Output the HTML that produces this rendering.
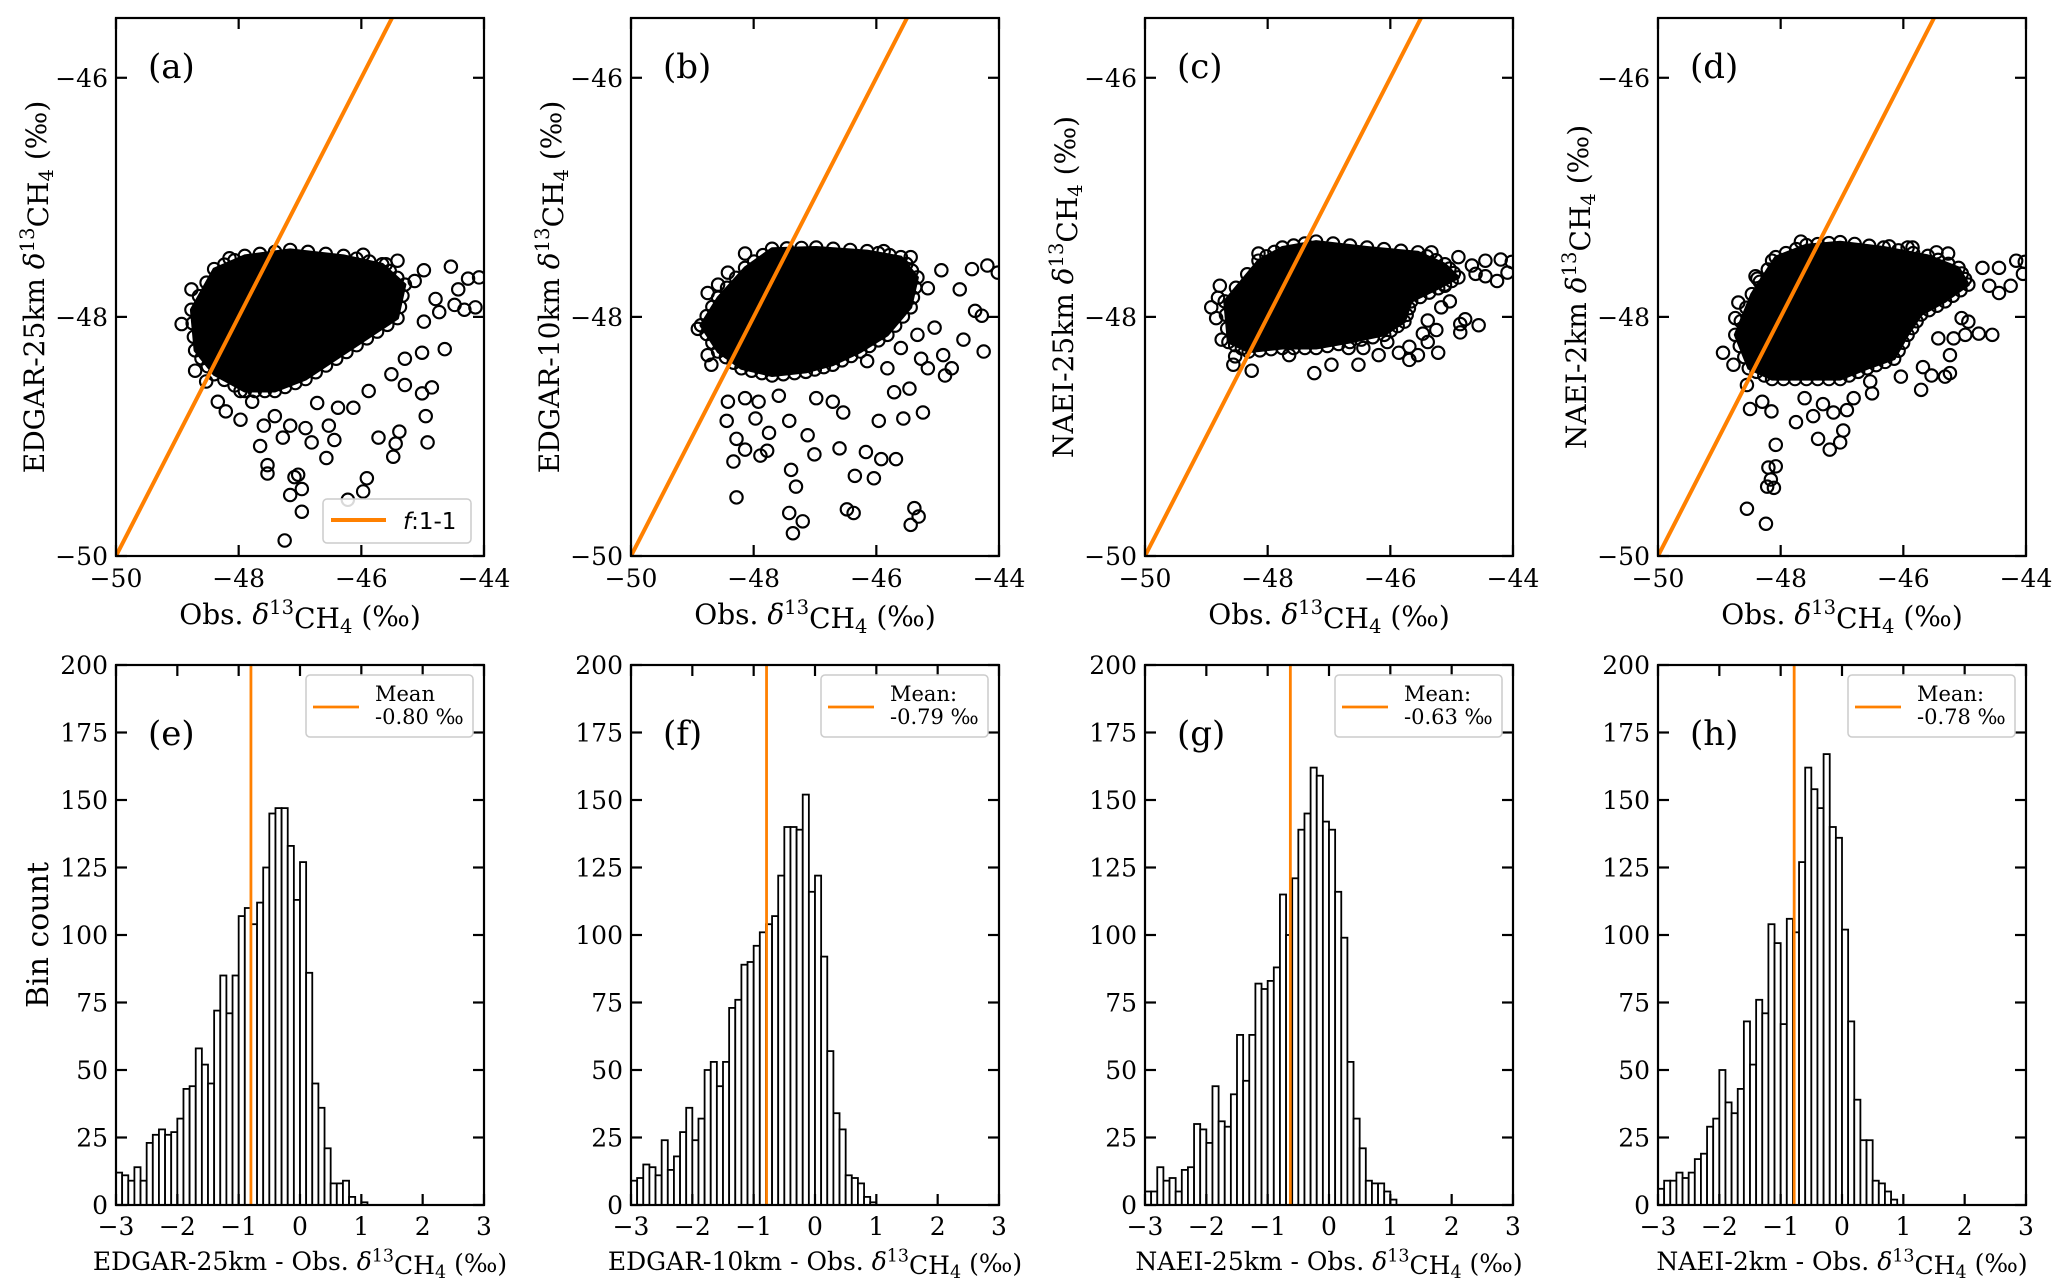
<!DOCTYPE html>
<html><head><meta charset="utf-8">
<style>
html,body{margin:0;padding:0;background:#fff;}
svg{display:block;font-family:"DejaVu Serif","Liberation Serif",serif;}
</style></head>
<body>
<svg id="fig" width="2067" height="1288" viewBox="0 0 2067 1288" xmlns="http://www.w3.org/2000/svg"></svg>
<script>
// ---------- DATA ----------
const scatterNames = ["EDGAR-25km","EDGAR-10km","NAEI-25km","NAEI-2km"];
const scatterLetters = ["(a)","(b)","(c)","(d)"];
const histLetters = ["(e)","(f)","(g)","(h)"];
const xTicksScatter = [-50,-48,-46,-44];
const yTicksScatter = [-50,-48,-46];
const xTicksHist = [-3,-2,-1,0,1,2,3];
const yTicksHist = [0,25,50,75,100,125,150,175,200];
const meanValues = [-0.80,-0.79,-0.63,-0.78];
const meanLabels = ["Mean","Mean:","Mean:","Mean:"];
const binStart = -3.0;
const binWidth = 0.1;

const histE = [12,11,9,14,9,23,26,28,26,27,32,43,44,58,52,45,72,85,71,85,107,110,104,112,125,145,147,147,133,113,127,86,45,36,21,8,8,9,3,0,1];
const histF = [9,10,15,14,11,24,13,18,27,36,24,32,50,53,44,53,73,76,89,90,96,101,104,107,122,140,140,139,152,116,122,92,57,34,28,11,10,8,3,1,0];
const histG = [5,5,14,9,10,5,13,14,30,28,23,44,31,29,41,63,46,63,82,80,83,88,115,100,121,139,145,162,159,142,139,116,99,53,32,21,9,8,8,5,2];
const histH = [6,9,9,12,10,12,17,19,29,32,50,38,34,43,68,52,76,71,104,97,67,106,101,127,162,154,147,167,140,136,102,68,39,24,24,9,8,5,2,0,0];

const coreAX = [-48.77,-48.40,-47.90,-47.16,-46.29,-45.66,-45.29,-45.41,-45.91,-46.41,-46.91,-47.41,-47.90,-48.40,-48.71];
const coreAY = [-47.94,-47.60,-47.49,-47.44,-47.49,-47.56,-47.73,-48.01,-48.18,-48.35,-48.52,-48.62,-48.62,-48.48,-48.28];
const ptsAX = [-48.93,-48.77,-48.71,-48.53,-48.34,-48.15,-47.97,-47.65,-47.53,-47.53,-47.59,-47.41,-47.28,-47.16,-47.09,-47.03,-47.16,-46.97,-46.97,-47.25,-46.91,-46.81,-46.72,-46.53,-46.44,-46.57,-46.38,-46.22,-46.13,-45.97,-45.91,-45.88,-45.72,-45.48,-45.38,-45.44,-45.51,-45.29,-45.29,-45.01,-44.85,-44.95,-44.92,-45.01,-44.64,-44.98,-44.73,-44.54,-44.42,-44.32,-44.14,-44.08,-44.26,-44.98,-45.13,-45.41,-45.97,-45.60,-44.79,-44.48,-48.09,-47.97,-48.21,-47.78];
const ptsAY = [-48.06,-47.77,-48.45,-48.54,-48.71,-47.51,-48.86,-49.08,-49.24,-49.31,-48.91,-48.83,-49.01,-48.91,-49.34,-49.32,-49.49,-49.63,-49.44,-49.87,-48.93,-49.05,-48.72,-48.91,-49.03,-49.18,-48.76,-49.53,-48.76,-49.46,-49.35,-48.62,-49.01,-49.17,-48.96,-49.06,-48.48,-48.57,-48.35,-48.64,-48.59,-48.83,-49.05,-48.30,-48.27,-48.04,-47.96,-47.58,-47.77,-47.94,-47.92,-47.67,-47.68,-47.61,-47.70,-47.53,-47.48,-47.56,-47.85,-47.90,-48.38,-48.62,-48.79,-48.71];

const coreBX = [-48.86,-48.58,-48.14,-47.70,-46.98,-46.15,-45.60,-45.33,-45.44,-45.82,-46.26,-46.71,-47.15,-47.70,-48.20,-48.58];
const coreBY = [-48.07,-47.84,-47.59,-47.43,-47.42,-47.45,-47.50,-47.67,-47.92,-48.15,-48.29,-48.40,-48.46,-48.49,-48.43,-48.29];
const ptsBX = [-48.14,-48.91,-48.75,-48.69,-48.42,-48.44,-48.28,-48.14,-48.33,-48.28,-47.89,-47.78,-47.97,-47.75,-47.39,-47.31,-47.42,-47.20,-47.36,-47.12,-47.01,-46.60,-46.48,-46.37,-46.35,-46.04,-46.17,-45.92,-45.68,-45.96,-45.56,-45.24,-45.46,-45.71,-45.38,-45.31,-45.44,-44.25,-44.58,-44.64,-44.44,-44.19,-44.02,-44.28,-44.39,-44.77,-44.88,-44.91,-45.16,-45.27,-46.98,-46.71,-46.54,-47.42,-47.59,-48.14,-47.92,-48.58,-48.75,-48.42,-46.15,-45.82,-45.60,-45.33,-45.05,-45.16,-44.94,-45.44,-45.88];
const ptsBY = [-47.47,-48.10,-48.32,-48.40,-48.71,-48.87,-49.02,-49.11,-49.21,-49.51,-49.16,-49.12,-48.85,-48.97,-49.28,-49.42,-49.64,-49.71,-49.81,-48.99,-49.15,-49.10,-49.61,-49.64,-49.33,-49.35,-49.13,-49.19,-49.19,-48.87,-48.85,-48.80,-48.60,-48.63,-49.60,-49.67,-49.74,-48.29,-48.19,-47.77,-47.60,-47.57,-47.63,-47.99,-47.95,-48.43,-48.49,-48.32,-48.43,-48.35,-48.68,-48.71,-48.80,-48.87,-48.66,-48.68,-48.71,-47.73,-47.80,-47.63,-48.37,-48.43,-48.26,-48.15,-48.09,-47.76,-47.61,-47.50,-47.45];

const coreCX = [-48.70,-48.15,-47.76,-47.21,-46.38,-45.55,-45.11,-44.89,-45.22,-45.66,-45.77,-46.10,-46.66,-47.21,-47.76,-48.31,-48.64];
const coreCY = [-47.87,-47.53,-47.42,-47.37,-47.42,-47.46,-47.56,-47.67,-47.76,-47.87,-48.04,-48.15,-48.21,-48.26,-48.26,-48.29,-48.21];
const ptsCX = [-48.15,-48.92,-48.78,-48.84,-48.75,-48.56,-48.26,-47.24,-46.96,-46.52,-46.68,-46.44,-46.19,-45.86,-45.69,-45.55,-45.69,-45.39,-45.22,-45.25,-45.17,-45.03,-44.86,-44.78,-44.56,-44.86,-45.39,-44.67,-44.45,-44.20,-44.02,-44.09,-44.26,-44.61,-44.45,-44.89,-45.33,-45.11,-48.81,-48.53,-47.65,-46.05,-45.47];
const ptsCY = [-47.47,-47.92,-47.74,-48.01,-48.19,-48.40,-48.45,-48.47,-48.40,-48.40,-48.26,-48.26,-48.32,-48.30,-48.36,-48.32,-48.25,-48.21,-48.30,-48.11,-47.92,-47.87,-48.06,-48.02,-48.07,-48.13,-48.03,-47.57,-47.53,-47.52,-47.54,-47.63,-47.70,-47.64,-47.66,-47.50,-47.46,-47.74,-47.84,-48.33,-48.32,-48.21,-48.14];

const coreDX = [-48.74,-48.47,-48.08,-47.58,-47.03,-46.32,-45.60,-45.10,-44.94,-45.32,-45.71,-45.93,-46.15,-46.59,-47.03,-47.58,-48.14,-48.52];
const coreDY = [-48.15,-47.81,-47.50,-47.40,-47.375,-47.42,-47.49,-47.59,-47.73,-47.87,-47.98,-48.15,-48.35,-48.43,-48.52,-48.52,-48.52,-48.43];
const ptsDX = [-47.67,-48.14,-48.41,-48.38,-48.69,-48.74,-48.94,-48.77,-48.55,-48.50,-48.30,-48.15,-47.75,-47.61,-47.47,-47.31,-47.14,-47.39,-47.20,-47.03,-46.98,-46.92,-46.81,-46.51,-46.54,-46.04,-45.71,-45.68,-45.54,-45.32,-45.24,-45.24,-45.18,-45.43,-44.99,-44.77,-44.55,-44.94,-45.05,-44.44,-44.60,-44.25,-44.05,-44.02,-44.16,-44.44,-44.71,-48.08,-48.20,-48.08,-48.16,-48.22,-48.11,-48.55,-48.24,-45.93,-45.85,-46.23,-45.46,-45.27];
const ptsDY = [-47.37,-47.53,-47.66,-47.68,-47.88,-48.01,-48.30,-48.40,-48.57,-48.77,-48.71,-48.79,-48.88,-48.68,-48.83,-48.73,-48.80,-49.02,-49.11,-49.05,-48.95,-48.78,-48.68,-48.64,-48.54,-48.50,-48.61,-48.42,-48.49,-48.50,-48.47,-48.32,-48.18,-48.18,-48.15,-48.14,-48.15,-48.04,-48.01,-47.80,-47.74,-47.74,-47.64,-47.54,-47.53,-47.59,-47.59,-49.07,-49.26,-49.25,-49.36,-49.42,-49.43,-49.605,-49.73,-47.42,-47.42,-47.41,-47.46,-47.47];

const coresX = [coreAX,coreBX,coreCX,coreDX];
const coresY = [coreAY,coreBY,coreCY,coreDY];
const pointsX = [ptsAX,ptsBX,ptsCX,ptsDX];
const pointsY = [ptsAY,ptsBY,ptsCY,ptsDY];
const hists = [histE,histF,histG,histH];

// ---------- LAYOUT ----------
const NS = "http://www.w3.org/2000/svg";
const svg = document.getElementById("fig");
const colLeft = [116,631,1145,1658];
const W = 368;
const sTop = 18, sBot = 556, hTop = 665, hBot = 1205;
const ORANGE = "#ff8000";
const MR = 6.2, MSW = 2.1;
const sXmin=-50,sXmax=-44,sYmin=-50,sYmax=-45.5;

function mk(tag, attrs, parent){
  const e=document.createElementNS(NS,tag);
  for(const k in attrs) e.setAttribute(k,attrs[k]);
  (parent||svg).appendChild(e); return e;
}
function fmt(v){return v<0?"\u2212"+Math.abs(v):String(v);}
function deltaLabel(t, prefix){
  t.appendChild(document.createTextNode(prefix));
  const d=mk("tspan",{"font-style":"italic"},t); d.textContent="\u03B4";
  const s=mk("tspan",{"font-size":"70%",dy:"-0.5em"},t); s.textContent="13";
  const c=mk("tspan",{dy:"0.5em"},t); c.textContent="CH";
  const f=mk("tspan",{"font-size":"70%",dy:"0.25em"},t); f.textContent="4";
  const r=mk("tspan",{dy:"-0.25em"},t); r.textContent=" (\u2030)";
}

for(let p=0;p<4;p++){
  const L=colLeft[p], R=L+W;
  const sx=v=>L+(v-sXmin)/(sXmax-sXmin)*W;
  const sy=v=>sBot-(v-sYmin)/(sYmax-sYmin)*(sBot-sTop);
  const g=mk("g",{});
  
  
  const clipId="clip"+p;
  const cp=mk("clipPath",{id:clipId},g); mk("rect",{x:L,y:sTop,width:W,height:sBot-sTop},cp);
  const pg=mk("g",{"clip-path":"url(#"+clipId+")"},g);
  const cx=coresX[p], cy=coresY[p];
  let d="";
  for(let i=0;i<cx.length;i++) d+=(i?"L":"M")+sx(cx[i]).toFixed(1)+","+sy(cy[i]).toFixed(1);
  const core=mk("path",{d:d+"Z",fill:"#000",stroke:"#000","stroke-width":3,"stroke-linejoin":"round"},pg);
  
  
  for(let i=0;i<cx.length;i++){
    const j=(i+1)%cx.length;
    for(let k=0;k<3;k++){
      const t=k/3;
      const X=sx(cx[i]+(cx[j]-cx[i])*t), Y=sy(cy[i]+(cy[j]-cy[i])*t);
      const c=mk("circle",{cx:X,cy:Y,r:MR,fill:"none",stroke:"#000","stroke-width":MSW},pg);
      
      
    }
  }
  const px=pointsX[p], py=pointsY[p];
  for(let i=0;i<px.length;i++){
    const c=mk("circle",{cx:sx(px[i]),cy:sy(py[i]),r:MR,fill:"none",stroke:"#000","stroke-width":MSW},pg);
    
    
  }
  const ol=mk("line",{x1:sx(-50),y1:sy(-50),x2:sx(sYmax),y2:sy(sYmax),stroke:ORANGE,"stroke-width":4},pg);
  
  
  for(const v of xTicksScatter){
    mk("line",{x1:sx(v),y1:sBot,x2:sx(v),y2:sBot-11,stroke:"#000","stroke-width":2.2},g);
    mk("line",{x1:sx(v),y1:sTop,x2:sx(v),y2:sTop+11,stroke:"#000","stroke-width":2.2},g);
    const t=mk("text",{x:sx(v),y:sBot+31,"font-size":25,"text-anchor":"middle"},g); t.textContent=fmt(v);
    
    
  }
  for(const v of yTicksScatter){
    mk("line",{x1:L,y1:sy(v),x2:L+11,y2:sy(v),stroke:"#000","stroke-width":2.2},g);
    mk("line",{x1:R,y1:sy(v),x2:R-11,y2:sy(v),stroke:"#000","stroke-width":2.2},g);
    const t=mk("text",{x:L-8,y:sy(v)+9,"font-size":25,"text-anchor":"end"},g); t.textContent=fmt(v);
    
    
  }
  const fr=mk("rect",{x:L,y:sTop,width:W,height:sBot-sTop,fill:"none",stroke:"#000","stroke-width":2.2},g);
  
  
  const pl=mk("text",{x:L+32,y:78,"font-size":34},g); pl.textContent=scatterLetters[p];
  
  
  const xl=mk("text",{x:L+W/2,y:624,"font-size":28,"text-anchor":"middle"},g); deltaLabel(xl,"Obs. ");
  
  
  const yc=(sTop+sBot)/2;
  const yl=mk("text",{x:0,y:0,"font-size":28,"text-anchor":"middle",transform:"translate("+(L-72)+","+yc+") rotate(-90)"},g);
  deltaLabel(yl,scatterNames[p]+" ");
  
  
  if(p===0){
    const lg=mk("g",{},g);
    
    
    mk("rect",{x:L+207,y:499,width:148,height:44,rx:4,fill:"#fff","fill-opacity":0.85,stroke:"#ccc","stroke-width":1.5},lg);
    mk("line",{x1:L+215,y1:520,x2:L+270,y2:520,stroke:ORANGE,"stroke-width":4},lg);
    const lt=mk("text",{x:L+287,y:529,"font-size":23,"font-family":"DejaVu Sans, Liberation Sans, sans-serif"},lg);
    const fi=mk("tspan",{"font-style":"italic"},lt); fi.textContent="f";
    const rest=mk("tspan",{},lt); rest.textContent=":1-1";
  }

  const hx=v=>L+(v+3)/6*W;
  const hy=v=>hBot-v/200*(hBot-hTop);
  const h=mk("g",{});
  
  
  const counts=hists[p];
  for(let i=0;i<counts.length;i++){
    if(counts[i]<=0) continue;
    const x0=binStart+i*binWidth;
    const b=mk("rect",{x:hx(x0),y:hy(counts[i]),width:hx(x0+binWidth)-hx(x0),height:hBot-hy(counts[i]),fill:"#fff",stroke:"#000","stroke-width":1.8},h);
    
    
  }
  const ml=mk("line",{x1:hx(meanValues[p]),y1:hTop,x2:hx(meanValues[p]),y2:hBot,stroke:ORANGE,"stroke-width":2.8},h);
  
  
  for(const v of xTicksHist){
    mk("line",{x1:hx(v),y1:hBot,x2:hx(v),y2:hBot-11,stroke:"#000","stroke-width":2.2},h);
    mk("line",{x1:hx(v),y1:hTop,x2:hx(v),y2:hTop+11,stroke:"#000","stroke-width":2.2},h);
    const t=mk("text",{x:hx(v),y:hBot+30,"font-size":25,"text-anchor":"middle"},h); t.textContent=fmt(v);
    
    
  }
  for(const v of yTicksHist){
    mk("line",{x1:L,y1:hy(v),x2:L+11,y2:hy(v),stroke:"#000","stroke-width":2.2},h);
    mk("line",{x1:R,y1:hy(v),x2:R-11,y2:hy(v),stroke:"#000","stroke-width":2.2},h);
    const t=mk("text",{x:L-8,y:hy(v)+9,"font-size":25,"text-anchor":"end"},h); t.textContent=String(v);
    
    
  }
  mk("rect",{x:L,y:hTop,width:W,height:hBot-hTop,fill:"none",stroke:"#000","stroke-width":2.2},h);
  const hl=mk("text",{x:L+32,y:745,"font-size":34},h); hl.textContent=histLetters[p];
  
  
  const hxl=mk("text",{x:L+W/2,y:1270,"font-size":25,"text-anchor":"middle"},h);
  deltaLabel(hxl,scatterNames[p]+" - Obs. ");
  
  
  const lg=mk("g",{},h);
  
  
  mk("rect",{x:L+190,y:hTop+10,width:167,height:62,rx:4,fill:"#fff","fill-opacity":0.85,stroke:"#ccc","stroke-width":1.5},lg);
  mk("line",{x1:L+197,y1:hTop+42,x2:L+243,y2:hTop+42,stroke:ORANGE,"stroke-width":2.8},lg);
  const t1=mk("text",{x:L+259,y:hTop+36,"font-size":21},lg); t1.textContent=meanLabels[p];
  const t2=mk("text",{x:L+259,y:hTop+59,"font-size":21},lg); t2.textContent=meanValues[p].toFixed(2)+" \u2030";
  if(p===0){
    const bl=mk("text",{x:0,y:0,"font-size":30,"text-anchor":"middle",transform:"translate(48,"+((hTop+hBot)/2)+") rotate(-90)"},h);
    bl.textContent="Bin count";
    
    
  }
}
</script>
</body></html>
